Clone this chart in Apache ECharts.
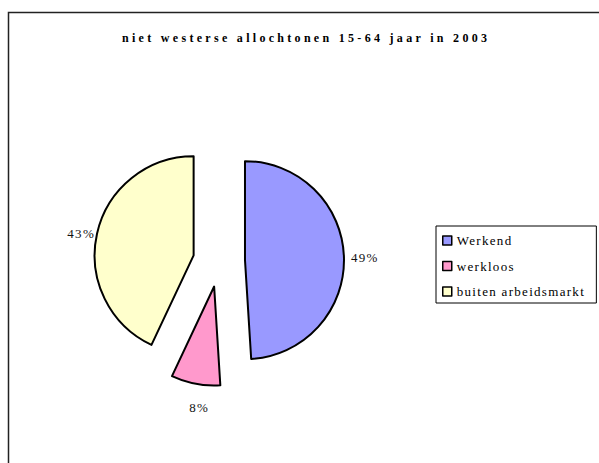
<!DOCTYPE html>
<html>
<head>
<meta charset="utf-8">
<script src="https://cdn.jsdelivr.net/npm/echarts@6/dist/echarts.min.js"></script>
<style>
  html, body { margin: 0; padding: 0; background: #fff; }
  #chart { width: 599px; height: 463px; }
</style>
</head>
<body>
<div id="chart"></div>
<script>
// Labour market position, non-western migrants aged 15-64, 2003
const chartTitle = 'niet westerse allochtonen 15-64 jaar in 2003';
const categories = ['Werkend', 'werkloos', 'buiten arbeidsmarkt'];
const shares = [49, 8, 43];
const sliceColors = ['#9999FF', '#FF99CC', '#FFFFCC'];

// per-slice label placement (distance along the slice direction, then sideways)
const labelLines = [
  { length: 2, length2: 0 },
  { length: 24, length2: -23 },
  { length: 0, length2: -3 }
];

const serif = '"Liberation Serif", "Times New Roman", serif';

const chart = echarts.init(document.getElementById('chart'), null, { renderer: 'svg' });

chart.setOption({
  animation: false,
  backgroundColor: '#fff',
  title: {
    text: chartTitle,
    left: 122,
    top: 32,
    padding: 0,
    textStyle: { fontFamily: serif, fontSize: 12, fontWeight: 'bold', color: '#000' }
  },
  legend: {
    orient: 'vertical',
    left: 436,
    top: 226,
    padding: [8, 36, 5, 6],
    itemGap: 12.5,
    itemWidth: 9,
    itemHeight: 9,
    borderColor: '#000',
    borderWidth: 1,
    selectedMode: false,
    icon: 'rect',
    itemStyle: { borderColor: '#000', borderWidth: 1.5 },
    textStyle: { fontFamily: serif, fontSize: 13, color: '#000' },
    data: categories
  },
  graphic: [{
    type: 'rect',
    silent: true,
    shape: { x: 8.5, y: 12.5, width: 800, height: 800 },
    style: { fill: 'none', stroke: '#222', lineWidth: 1.5 }
  }],
  series: [{
    type: 'pie',
    center: [219, 261],
    radius: 99,
    startAngle: 90,
    clockwise: true,
    selectedMode: 'multiple',
    selectedOffset: 26,
    avoidLabelOverlap: false,
    emphasis: { disabled: true },
    itemStyle: { borderColor: '#000', borderWidth: 2 },
    label: {
      show: true,
      position: 'outside',
      fontFamily: serif,
      fontSize: 13,
      color: '#111',
      formatter: p => p.value + '%'
    },
    labelLine: { show: false },
    data: categories.map((name, i) => ({
      name,
      value: shares[i],
      selected: true,
      itemStyle: { color: sliceColors[i] },
      labelLine: { show: false, length: labelLines[i].length, length2: labelLines[i].length2 }
    }))
  }]
});

// wider letter spacing on the drawn texts
document.querySelectorAll('#chart svg text').forEach(t => {
  t.style.letterSpacing = t.textContent === chartTitle ? '3.3px' : '1.3px';
});
</script>
</body>
</html>
